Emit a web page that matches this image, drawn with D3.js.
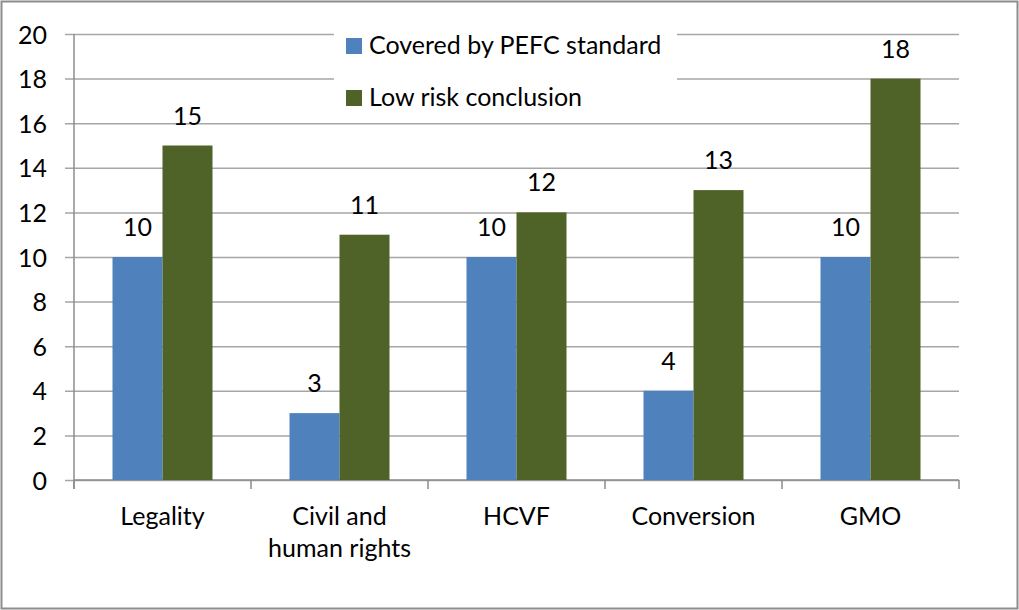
<!DOCTYPE html>
<html>
<head>
<meta charset="utf-8">
<script src="https://cdn.jsdelivr.net/npm/d3@7"></script>
<style>
  body { margin: 0; background: #fff; }
  svg text { font-family: Lato, "Liberation Sans", sans-serif; fill: #000; }
</style>
</head>
<body>
<svg width="1019" height="610"></svg>
<script>
// chart data
const categories = ["Legality", "Civil and\nhuman rights", "HCVF", "Conversion", "GMO"];
const seriesNames = ["Covered by PEFC standard", "Low risk conclusion"];
const covered = [10, 3, 10, 4, 10];
const lowRisk = [15, 11, 12, 13, 18];
const yTicks = [0, 2, 4, 6, 8, 10, 12, 14, 16, 18, 20];
const colors = ["#4F81BD", "#4F6228"];

const svg = d3.select("svg");
const width = +svg.attr("width");
const height = +svg.attr("height");
const margin = { top: 34, right: 60, bottom: 130, left: 74 };
const innerWidth = width - margin.left - margin.right;
const innerHeight = height - margin.top - margin.bottom;
const fontSize = 25;

// outer frame
svg.append("rect")
    .attr("x", 1.5).attr("y", 1.5)
    .attr("width", width - 3).attr("height", height - 3)
    .attr("fill", "#fff")
    .attr("stroke", "#8c8c8c")
    .attr("stroke-width", 2);

const g = svg.append("g")
    .attr("transform", `translate(${margin.left}, ${margin.top})`);

const xScale = d3.scaleBand()
    .domain(categories)
    .range([0, innerWidth]);

const xInner = d3.scaleBand()
    .domain(seriesNames)
    .range([0, xScale.bandwidth()])
    .paddingOuter(0.77);

const yScale = d3.scaleLinear()
    .domain([0, 20])
    .range([innerHeight, 0]);

// gridlines + y axis
const yAxis = g.append("g")
    .call(d3.axisLeft(yScale)
        .tickValues(yTicks)
        .tickSize(-innerWidth)
        .tickPadding(0)
        .tickFormat(d3.format("d")));
yAxis.select(".domain").remove();
yAxis.selectAll(".tick line")
    .attr("x1", -9)
    .attr("stroke", "#a6a6a6")
    .attr("stroke-width", 1.5);
yAxis.selectAll(".tick text")
    .attr("x", -27)
    .attr("dy", "0.36em")
    .style("font-size", fontSize + "px")
    .attr("font-family", null);

// y axis line
g.append("line")
    .attr("x1", 0).attr("x2", 0)
    .attr("y1", 0).attr("y2", innerHeight + 9)
    .attr("stroke", "#8c8c8c")
    .attr("stroke-width", 1.5);

// x axis line with category boundary ticks
g.append("line")
    .attr("x1", 0).attr("x2", innerWidth)
    .attr("y1", innerHeight).attr("y2", innerHeight)
    .attr("stroke", "#8c8c8c")
    .attr("stroke-width", 1.5);
g.selectAll(".xtick")
    .data(categories.map(c => xScale(c)).concat([innerWidth]))
    .join("line")
    .attr("class", "xtick")
    .attr("x1", d => d).attr("x2", d => d)
    .attr("y1", innerHeight).attr("y2", innerHeight + 9)
    .attr("stroke", "#8c8c8c")
    .attr("stroke-width", 1.5);

// category labels (multi-line)
g.selectAll(".cat")
    .data(categories)
    .join("text")
    .attr("class", "cat")
    .attr("text-anchor", "middle")
    .style("font-size", fontSize + "px")
    .attr("transform", d => `translate(${xScale(d) + xScale.bandwidth() / 2}, ${innerHeight + 45})`)
    .selectAll("tspan")
    .data(d => d.split("\n"))
    .join("tspan")
    .attr("x", 0)
    .attr("y", (d, i) => i * 32)
    .text(d => d);

// bars
const rows = categories.map((c, i) => ({ cat: c, values: [covered[i], lowRisk[i]] }));

const groups = g.selectAll(".grp")
    .data(rows)
    .join("g")
    .attr("class", "grp")
    .attr("transform", d => `translate(${xScale(d.cat)}, 0)`);

groups.selectAll("rect")
    .data(d => d.values.map((v, i) => ({ key: seriesNames[i], value: v, i })))
    .join("rect")
    .attr("x", d => xInner(d.key))
    .attr("y", d => yScale(d.value))
    .attr("width", xInner.bandwidth())
    .attr("height", d => innerHeight - yScale(d.value))
    .attr("fill", d => colors[d.i]);

// value labels
groups.selectAll(".val")
    .data(d => d.values.map((v, i) => ({ key: seriesNames[i], value: v })))
    .join("text")
    .attr("class", "val")
    .attr("text-anchor", "middle")
    .style("font-size", fontSize + "px")
    .attr("x", d => xInner(d.key) + xInner.bandwidth() / 2)
    .attr("y", d => yScale(d.value) - 21)
    .text(d => d.value);

// legend with white background
svg.append("rect")
    .attr("x", 334).attr("y", 24)
    .attr("width", 343).attr("height", 94)
    .attr("fill", "#fff");

const legend = svg.selectAll(".legend")
    .data(seriesNames)
    .join("g")
    .attr("class", "legend")
    .attr("transform", (d, i) => `translate(346, ${38 + i * 52})`);
legend.append("rect")
    .attr("width", 16)
    .attr("height", 16)
    .attr("fill", (d, i) => colors[i]);
legend.append("text")
    .attr("x", 23)
    .attr("y", 16)
    .style("font-size", fontSize + "px")
    .text(d => d);
</script>
</body>
</html>
